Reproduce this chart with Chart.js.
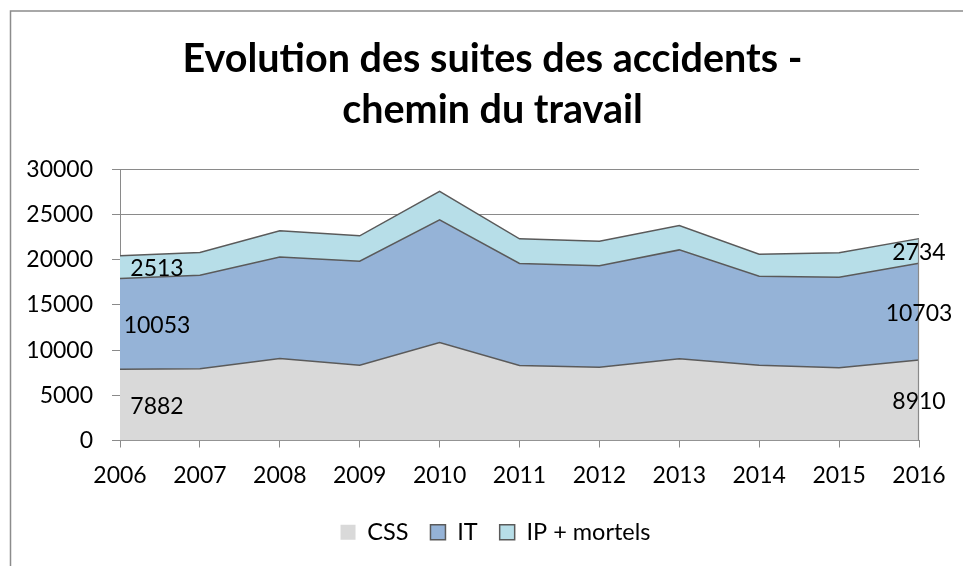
<!DOCTYPE html>
<html>
<head>
<meta charset="utf-8">
<script src="https://cdn.jsdelivr.net/npm/chart.js@4/dist/chart.umd.min.js"></script>
<style>
  html, body { margin: 0; padding: 0; background: #fff; }
  #wrap { width: 963px; height: 566px; position: relative; }
</style>
</head>
<body>
<div id="wrap"><canvas id="c" width="963" height="566"></canvas></div>
<script>
const years = ['2006','2007','2008','2009','2010','2011','2012','2013','2014','2015','2016'];
const css = [7882, 7940, 9080, 8340, 10850, 8300, 8120, 9040, 8340, 8050, 8910];
const it = [10053, 10360, 11220, 11510, 13580, 11300, 11220, 12060, 9850, 10030, 10703];
const ipMortels = [2513, 2510, 2910, 2810, 3140, 2720, 2730, 2700, 2440, 2700, 2734];
const seriesNames = ['CSS', 'IT', 'IP + mortels'];
const titleLines = ['Evolution des suites des accidents -', 'chemin du travail'];
const yTicks = [0, 5000, 10000, 15000, 20000, 25000, 30000];

const FONT = 'Lato, "Open Sans", sans-serif';
const lineCol = '#5a5a5a';
const gridCol = '#8a8a8a';

const frame = {
  id: 'frame',
  afterLayout(chart) {
    // the original centres its title and legend a little right of the plot centre
    if (chart.titleBlock) { chart.titleBlock.left += 33; chart.titleBlock.right += 33; }
    if (chart.legend) { chart.legend.left += 36; chart.legend.right += 36; }
  },
  beforeDraw(chart) {
    const ctx = chart.ctx;
    ctx.save();
    ctx.fillStyle = '#fff';
    ctx.fillRect(0, 0, chart.width, chart.height);
    ctx.strokeStyle = '#8c8c8c';
    ctx.lineWidth = 1.5;
    ctx.beginPath();
    ctx.moveTo(10.5, chart.height);
    ctx.lineTo(10.5, 11);
    ctx.lineTo(chart.width, 11);
    ctx.stroke();
    ctx.restore();
  }
};

const endLabels = {
  id: 'endLabels',
  afterDatasetsDraw(chart) {
    const ctx = chart.ctx;
    const yScale = chart.scales.y;
    ctx.save();
    // right-hand edge of the stacked area outline
    const n = chart.data.datasets.length;
    const topMeta = chart.getDatasetMeta(n - 1);
    const lastPt = topMeta.data[topMeta.data.length - 1];
    ctx.strokeStyle = '#8a8a8a';
    ctx.lineWidth = 1.2;
    ctx.beginPath();
    ctx.moveTo(Math.round(lastPt.x) - 0.5, lastPt.y);
    ctx.lineTo(Math.round(lastPt.x) - 0.5, yScale.getPixelForValue(0));
    ctx.stroke();

    ctx.font = '23px ' + FONT;
    ctx.fillStyle = '#000';
    ctx.textBaseline = 'middle';
    ctx.textAlign = 'center';
    chart.data.datasets.forEach((ds, i) => {
      const meta = chart.getDatasetMeta(i);
      const last = ds.data.length - 1;
      [0, last].forEach(idx => {
        const p = meta.data[idx];
        const bottom = i === 0 ? yScale.getPixelForValue(0) : chart.getDatasetMeta(i - 1).data[idx].y;
        const y = (p.y + bottom) / 2 + 1.5;
        const x = idx === 0 ? p.x + 37 : p.x;
        ctx.fillText(String(ds.data[idx]), x, y);
      });
    });
    ctx.restore();
  }
};

const mk = (label, data, fill, bg, bw) => ({
  label, data, fill,
  backgroundColor: bg,
  borderColor: lineCol,
  borderWidth: bw,
  pointRadius: 0,
  pointHoverRadius: 0,
  tension: 0
});

new Chart(document.getElementById('c'), {
  type: 'line',
  data: {
    labels: years,
    datasets: [
      mk(seriesNames[0], css, 'origin', '#d9d9d9', 1.5),
      mk(seriesNames[1], it, '-1', '#95b3d7', 1.5),
      mk(seriesNames[2], ipMortels, '-1', '#b7dee8', 1.5)
    ]
  },
  options: {
    responsive: false,
    animation: false,
    devicePixelRatio: 1,
    layout: { padding: { left: 0, right: 44, top: 0, bottom: 12 } },
    plugins: {
      tooltip: { enabled: false },
      title: {
        display: true,
        text: titleLines,
        color: '#000',
        font: { family: FONT, size: 39.5, weight: 'bold', lineHeight: 1.31 },
        padding: { top: 33, bottom: 33 }
      },
      legend: {
        position: 'bottom',
        labels: {
          color: '#000',
          font: { family: FONT, size: 23.5 },
          boxWidth: 15,
          boxHeight: 15,
          padding: 22,
          generateLabels(chart) {
            const items = Chart.defaults.plugins.legend.labels.generateLabels(chart);
            items.forEach(it => { it.lineWidth = it.datasetIndex === 0 ? 0 : 1.5; });
            return items;
          }
        }
      }
    },
    scales: {
      x: {
        offset: false,
        grid: { display: true, drawOnChartArea: false, drawTicks: true, tickLength: 7, color: gridCol, lineWidth: 1 },
        border: { display: true, color: gridCol, width: 1 },
        ticks: { color: '#000', font: { family: FONT, size: 23 }, padding: 14, maxRotation: 0, autoSkip: false },
        afterFit(scale) { scale.height = 58; }
      },
      y: {
        stacked: true,
        min: 0,
        max: 30000,
        afterBuildTicks(scale) { scale.ticks = yTicks.map(v => ({ value: v })); },
        grid: { color: gridCol, lineWidth: 1, tickLength: 8, drawTicks: true },
        border: { display: true, color: gridCol, width: 1 },
        ticks: { color: '#000', font: { family: FONT, size: 23 }, padding: 19, callback: v => String(v) },
        afterFit(scale) { scale.width = 120; }
      }
    }
  },
  plugins: [frame, endLabels]
});
</script>
</body>
</html>
